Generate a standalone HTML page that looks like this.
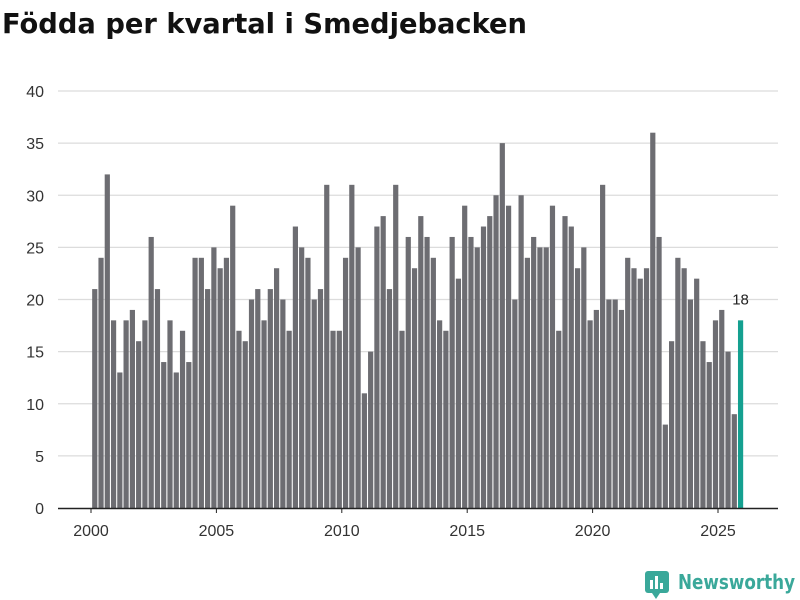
<!DOCTYPE html>
<html><head><meta charset="utf-8"><style>
body{margin:0;background:#fff;font-family:"Liberation Sans","DejaVu Sans",sans-serif;}
svg{display:block}
</style></head><body>
<svg width="800" height="600" id="c">
<text x="2" y="33" font-size="28" font-weight="bold" fill="#111" font-family="DejaVu Sans, sans-serif" textLength="525" lengthAdjust="spacingAndGlyphs">Födda per kvartal i Smedjebacken</text>
<g id="grid"></g><g id="bars"></g><g id="xaxis"></g>
<g>
<rect x="645" y="571" width="24" height="22" rx="3" fill="#3aa89a"/>
<rect x="650" y="580" width="3" height="9" fill="#fff"/><rect x="655" y="576" width="3" height="13" fill="#fff"/><rect x="660" y="583" width="3" height="6" fill="#fff"/>
<polygon points="652,593 660,593 656,599" fill="#3aa89a"/>
<text x="678" y="589" font-size="20" font-weight="bold" fill="#3aa89a" font-family="DejaVu Sans, sans-serif" textLength="117" lengthAdjust="spacingAndGlyphs">Newsworthy</text>
</g>
</svg>
<script>
const years=[2000,2001,2002,2003,2004,2005,2006,2007,2008,2009,2010,2011,2012,2013,2014,2015,2016,2017,2018,2019,2020,2021,2022,2023,2024,2025];
const values=[21,24,32,18, 13,18,19,16, 18,26,21,14, 18,13,17,14, 24,24,21,25, 23,24,29,17, 16,20,21,18, 21,23,20,17, 27,25,24,20, 21,31,17,17, 24,31,25,11, 15,27,28,21, 31,17,26,23, 28,26,24,18, 17,26,22,29, 26,25,27,28, 30,35,29,20, 30,24,26,25, 25,29,17,28, 27,23,25,18, 19,31,20,20, 19,24,23,22, 23,36,26,8, 16,24,23,20, 22,16,14,18, 19,15,9,18];
const yTicks=[0,5,10,15,20,25,30,35,40];
const xTicks=[2000,2005,2010,2015,2020,2025];
const NS='http://www.w3.org/2000/svg';
const x=t=>91+(t-2000)*25.08;
const y=v=>508-v*10.425;
function mk(tag,attrs,parent){const e=document.createElementNS(NS,tag);for(const k in attrs)e.setAttribute(k,attrs[k]);parent.appendChild(e);return e;}
const grid=document.getElementById('grid'),bars=document.getElementById('bars'),xa=document.getElementById('xaxis');
yTicks.forEach(v=>{
 if(v>0){const l=mk('line',{x1:58,x2:778,y1:y(v),y2:y(v),stroke:'#dcdcdc','stroke-width':1.3},grid);
 
 }
 const t=mk('text',{x:44,y:y(v)+6,'text-anchor':'end','font-size':16,fill:'#333'},grid);t.textContent=v;
 
 
});
values.forEach((v,i)=>{
 const t=2000+i/4+0.15;const last=i===values.length-1;
 const r=mk('rect',{x:x(t)-2.6,y:y(v),width:5.2,height:508-y(v),fill:last?'#14a090':'#6d6d72'},bars);
 
 
 if(last){const lb=mk('text',{x:x(t),y:y(v)-16,'text-anchor':'middle','font-size':15,fill:'#222'},bars);lb.textContent=v;
 
 }
});
const base=mk('line',{x1:58,x2:778,y1:508.5,y2:508.5,stroke:'#222','stroke-width':1.5},xa);


xTicks.forEach(v=>{
 const tk=mk('line',{x1:x(v),x2:x(v),y1:508,y2:513,stroke:'#222','stroke-width':1},xa);
 
 
 const t=mk('text',{x:x(v),y:536,'text-anchor':'middle','font-size':16,fill:'#333'},xa);t.textContent=v;
 
 
});
</script>
</body></html>
